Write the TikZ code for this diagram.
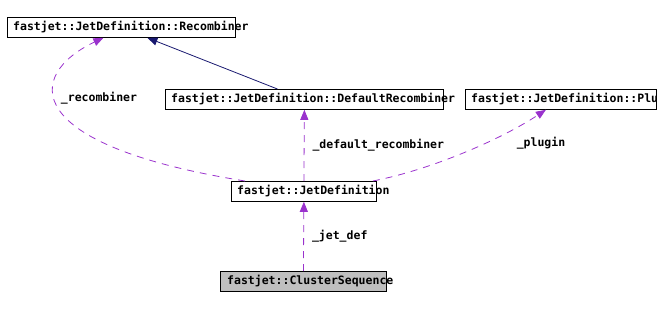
\documentclass[tikz,border=0pt]{standalone}
\usepackage{fontspec}
\newfontfamily\dxmono{DejaVu Sans Mono}
\usetikzlibrary{arrows.meta, calc}
\definecolor{edgenavy}{HTML}{191970}
\definecolor{usepurple}{HTML}{9A32CD}
\definecolor{mainfill}{HTML}{BFBFBF}

\begin{document}
\begin{tikzpicture}[x=1pt, y=-1pt,
  cls/.style={draw=black, line width=0.8pt, minimum height=20pt, inner sep=0pt, anchor=north west},
  clstext/.style={anchor=west, inner sep=0pt, xshift=6pt, font=\dxmono\bfseries\fontsize{11.5}{13}\selectfont},
  lbl/.style={inner sep=0pt, font=\dxmono\bfseries\fontsize{11.5}{13}\selectfont},
  inherit/.style={draw=edgenavy, line width=0.8pt, -{Triangle[length=10pt, width=8pt, fill=edgenavy]}},
  uses/.style={draw=usepurple, line width=0.8pt, dash pattern=on 7pt off 6pt, -{Triangle[length=10pt, width=8pt, fill=usepurple]}}]
  \useasboundingbox (0,0) rectangle (660,308);
  % classes
  \node[cls, minimum width=228pt, label={[clstext]west:fastjet::JetDefinition::Recombiner}] (rec) at (7,17) {};
  \node[cls, minimum width=278pt, label={[clstext]west:fastjet::JetDefinition::DefaultRecombiner}] (dflt) at (165,89) {};
  \node[cls, minimum width=191pt, label={[clstext]west:fastjet::JetDefinition::Plu}] (plug) at (465,89) {};
  \node[cls, minimum width=145pt, label={[clstext]west:fastjet::JetDefinition}] (jd) at (231,181) {};
  \node[cls, minimum width=166pt, fill=mainfill, label={[clstext,xshift=1pt]west:fastjet::ClusterSequence}] (cs) at (220,271) {};
  % inheritance
  \draw[inherit] ([xshift=-27pt]dflt.north) -- ([xshift=26pt]rec.south);
  % members
  \draw[uses] ([xshift=14pt]jd.north west) .. controls (20,145) and (25,75) .. ([xshift=-18pt]rec.south);
  \node[lbl] (lrec) at (99,98) {\_recombiner};
  \draw[uses] (jd.north) -- (dflt.south) node[midway, right, lbl, xshift=8pt] {\_default\_recombiner};
  \draw[uses] ([xshift=-4pt]jd.north east) .. controls (430,170) and (500,140) .. ([xshift=-15pt]plug.south);
  \node[lbl] (lplug) at (541,143) {\_plugin};
  \draw[uses] (cs.north) -- (jd.south) node[midway, right, lbl, xshift=8pt] {\_jet\_def};
\end{tikzpicture}
\end{document}
